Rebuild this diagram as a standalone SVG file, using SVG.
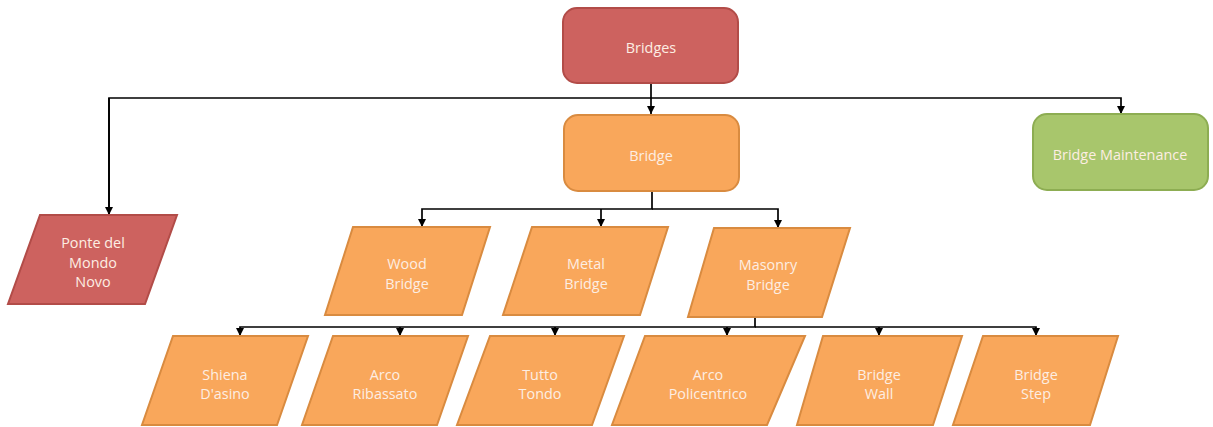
<svg xmlns="http://www.w3.org/2000/svg" width="1213" height="427" viewBox="0 0 1213 427">
<defs>
<style>
.red{fill:#CD625F;stroke:#B24C48;stroke-width:2}
.org{fill:#F9A75B;stroke:#D98B40;stroke-width:2}
.grn{fill:#A8C66C;stroke:#8DAD52;stroke-width:2}
text{font-family:"Open Sans","Liberation Sans",sans-serif;font-size:14.4px;fill:#FDEEE3;text-anchor:middle}
.c{fill:none;stroke:#000;stroke-width:1.7}
</style>
<marker id="ah" markerUnits="userSpaceOnUse" markerWidth="9" markerHeight="9" refX="8" refY="4" orient="auto">
<path d="M0,0 L8,4 L0,8 z" fill="#000"/>
</marker>
</defs>
<rect width="1213" height="427" fill="#fff"/>
<g id="connectors">
<path class="c" d="M651,83 V114" marker-end="url(#ah)"/>
<path class="c" d="M109,215 V98 H1121 V114" marker-end="url(#ah)"/>
<path class="c" d="M109,98 V215" marker-end="url(#ah)"/>
<path class="c" d="M652,192 V209 H422 V227" marker-end="url(#ah)"/>
<path class="c" d="M652,209 H778 V228" marker-end="url(#ah)"/>
<path class="c" d="M601,209 V227" marker-end="url(#ah)"/>
<path class="c" d="M755,317 V327 H240 V336" marker-end="url(#ah)"/>
<path class="c" d="M755,327 H1036 V336" marker-end="url(#ah)"/>
<path class="c" d="M400,327 V336" marker-end="url(#ah)"/>
<path class="c" d="M555,327 V336" marker-end="url(#ah)"/>
<path class="c" d="M727,327 V336" marker-end="url(#ah)"/>
<path class="c" d="M879,327 V336" marker-end="url(#ah)"/>
</g>
<g id="n-bridges"><rect class="red" x="563" y="8" width="175" height="75" rx="14"/><text x="651" y="53">Bridges</text></g>
<g id="n-bridge"><rect class="org" x="564" y="115" width="175" height="76" rx="14"/><text x="651" y="161">Bridge</text></g>
<g id="n-maint"><rect class="grn" x="1033" y="114" width="175" height="76" rx="14"/><text x="1120" y="160">Bridge Maintenance</text></g>
<g id="n-ponte"><polygon class="red" points="40,215 177,215 145,304 8,304"/><text x="93" y="248">Ponte del</text><text x="93" y="268">Mondo</text><text x="93" y="287">Novo</text></g>
<g id="n-wood"><polygon class="org" points="353,227 490,227 462,315 325,315"/><text x="407" y="269">Wood</text><text x="407" y="289">Bridge</text></g>
<g id="n-metal"><polygon class="org" points="532,227 668,227 640,315 503,315"/><text x="586" y="269">Metal</text><text x="586" y="289">Bridge</text></g>
<g id="n-masonry"><polygon class="org" points="714,228 850,228 822,317 688,317"/><text x="768" y="270">Masonry</text><text x="768" y="290">Bridge</text></g>
<g id="n-shiena"><polygon class="org" points="173,336 308,336 277,425 142,425"/><text x="225" y="380">Shiena</text><text x="225" y="399">D'asino</text></g>
<g id="n-ribassato"><polygon class="org" points="333,336 468,336 437,425 302,425"/><text x="385" y="380">Arco</text><text x="385" y="399">Ribassato</text></g>
<g id="n-tutto"><polygon class="org" points="490,336 624,336 592,425 457,425"/><text x="540" y="380">Tutto</text><text x="540" y="399">Tondo</text></g>
<g id="n-policentrico"><polygon class="org" points="645,336 805,336 767,425 612,425"/><text x="708" y="380">Arco</text><text x="708" y="399">Policentrico</text></g>
<g id="n-wall"><polygon class="org" points="823,336 962,336 933,425 797,425"/><text x="879" y="380">Bridge</text><text x="879" y="399">Wall</text></g>
<g id="n-step"><polygon class="org" points="983,336 1118,336 1090,425 953,425"/><text x="1036" y="380">Bridge</text><text x="1036" y="399">Step</text></g>
</svg>
